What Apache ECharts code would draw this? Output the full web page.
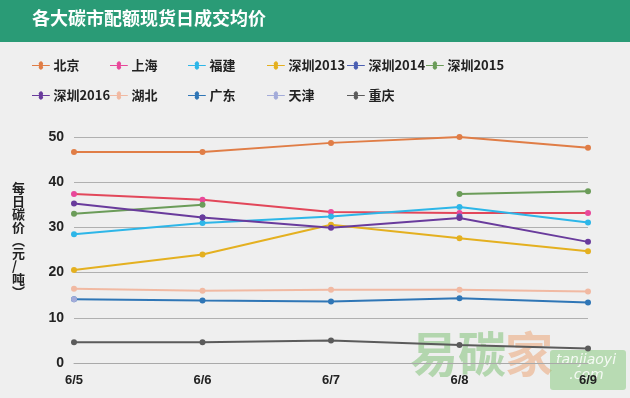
<!DOCTYPE html>
<html>
<head>
<meta charset="utf-8">
<script src="https://cdn.jsdelivr.net/npm/echarts@6/dist/echarts.min.js"></script>
<style>
  html, body { margin: 0; padding: 0; background: #efefef; }
  #chart { width: 630px; height: 398px; }
</style>
</head>
<body>
<div id="chart"></div>
<script>
const days = ['6/5', '6/6', '6/7', '6/8', '6/9'];
const yTicks = [0, 10, 20, 30, 40, 50];

const beijing   = [46.7, 46.7, 48.7, 50.0, 47.6];
const shanghai  = [37.4, 36.1, 33.4, 33.2, 33.2];
const fujian    = [28.5, 31.0, 32.4, 34.5, 31.1];
const sz2013    = [20.6, 24.0, 30.6, 27.6, 24.7];
const sz2014    = [null, 32.2, null, 32.4, null];
const sz2015    = [33.0, 35.0, null, 37.4, 38.0];
const sz2016    = [35.3, 32.2, 29.9, 32.1, 26.8];
const hubei     = [16.4, 16.0, 16.2, 16.2, 15.8];
const guangdong = [14.1, 13.8, 13.6, 14.3, 13.4];
const tianjin   = [14.1, null, null, null, null];
const chongqing = [4.6, 4.6, 5.0, 4.0, 3.2];

const names = ['北京', '上海', '福建', '深圳2013', '深圳2014', '深圳2015', '深圳2016', '湖北', '广东', '天津', '重庆'];
const values = [beijing, shanghai, fujian, sz2013, sz2014, sz2015, sz2016, hubei, guangdong, tianjin, chongqing];
const colors = ['#e07d46', '#e8489a', '#2db6e8', '#e4b020', '#4b5fb2', '#6b9c59', '#693b9c', '#f1b9a2', '#2f76b6', '#a3abd9', '#5b5b5b'];
const lineColors = ['#e07d46', '#e2475a', '#2db6e8', '#e4b020', '#4b5fb2', '#6b9c59', '#693b9c', '#f1b9a2', '#2f76b6', '#a3abd9', '#5b5b5b'];

// legend slots: 6 per row, ~79px apart
const colLeft = [32, 110, 188, 267, 347, 426];

const chart = echarts.init(document.getElementById('chart'));

const legends = names.map((n, i) => ({
    left: colLeft[i % 6],
    top: i < 6 ? 59 : 89,
    padding: 0,
    data: [n],
    itemWidth: 19,
    itemHeight: 8,
    icon: 'path://M0,3.5L8,3.5A2.5,2.5,0,1,1,12,3.5L20,3.5L20,4.5L12,4.5A2.5,2.5,0,1,1,8,4.5L0,4.5Z',
    textStyle: { fontSize: 13, fontWeight: 'bold', color: '#222', fontFamily: 'Noto Sans CJK SC', padding: [0, 0, 0, -2] },
    selectedMode: false
}));

chart.setOption({
    backgroundColor: '#efefef',
    animation: false,
    color: colors,
    graphic: [
        { type: 'rect', left: 0, top: 0, shape: { width: 630, height: 42 }, style: { fill: '#2a9b76' } },
        { type: 'text', left: 32, top: 9, style: { text: '各大碳市配额现货日成交均价', fill: '#fff', font: 'bold 18px "Noto Sans CJK SC"' } },
        { type: 'text', left: 12, top: 182, style: { text: '每\n日\n碳\n价\n︵\n元\n/\n吨\n︶', fill: '#222', font: 'bold 13px "Noto Sans CJK SC"', lineHeight: 13, align: 'center', x: 7 } },
        { type: 'text', left: 410, top: 330, z: 0, style: { text: '易碳', fill: 'rgba(120,190,110,0.5)', font: 'bold 48px "Noto Sans CJK SC"' } },
        { type: 'text', left: 505, top: 330, z: 0, style: { text: '家', fill: 'rgba(235,160,110,0.5)', font: 'bold 48px "Noto Sans CJK SC"' } },
        { type: 'rect', left: 550, top: 350, z: 0, shape: { width: 76, height: 40, r: 3 }, style: { fill: 'rgba(130,200,120,0.5)' } },
        { type: 'text', left: 556, top: 353, z: 0, style: { text: 'tanjiaoyi\n   .com', fill: 'rgba(255,255,255,0.85)', font: 'italic 14px "DejaVu Sans"', lineHeight: 15 } }
    ],
    legend: legends,
    grid: { left: 74, right: 42, top: 137, bottom: 35 },
    xAxis: {
        type: 'category',
        data: days,
        boundaryGap: false,
        axisLine: { lineStyle: { color: '#a9a9a9' } },
        axisTick: { show: false },
        axisLabel: { color: '#222', fontSize: 13, fontWeight: 'bold', margin: 11 }
    },
    yAxis: {
        type: 'value',
        min: yTicks[0],
        max: yTicks[yTicks.length - 1],
        interval: 10,
        axisLine: { show: false },
        axisTick: { show: false },
        splitLine: { lineStyle: { color: '#b0b0b0' } },
        axisLabel: { color: '#222', fontSize: 14, fontWeight: 'bold', margin: 10 }
    },
    series: names.map((n, i) => ({
        name: n,
        type: 'line',
        data: values[i],
        symbol: 'circle',
        symbolSize: 6,
        showAllSymbol: true,
        lineStyle: { width: 2, color: lineColors[i] },
        itemStyle: { color: colors[i] },
        z: 3
    }))
});
</script>
</body>
</html>
